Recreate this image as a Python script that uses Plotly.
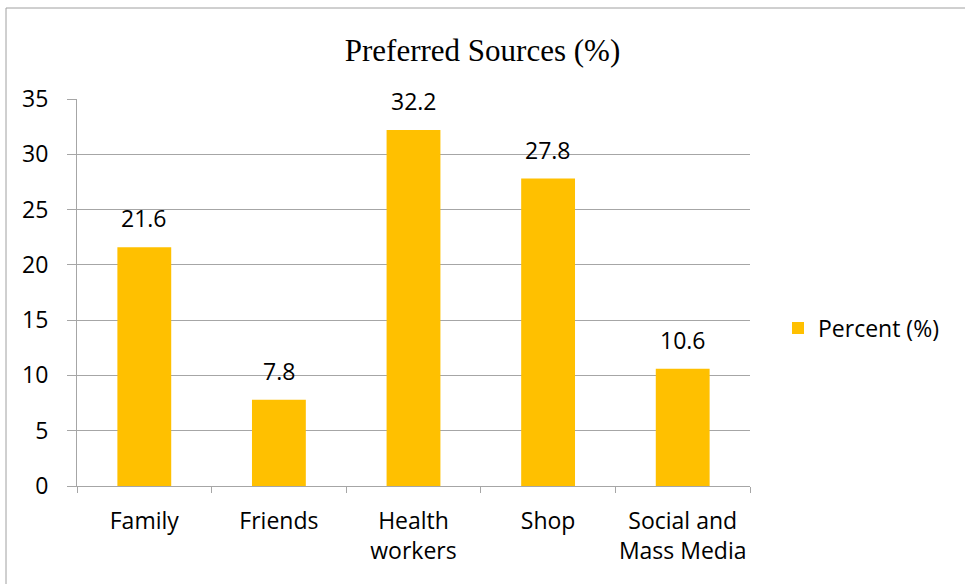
import plotly.graph_objects as go

categories = ["Family", "Friends", "Health<br>workers", "Shop", "Social and<br>Mass Media"]
percent = [21.6, 7.8, 32.2, 27.8, 10.6]
y_ticks = [0, 5, 10, 15, 20, 25, 30, 35]

W, H = 965, 584
L, R, T, B = 77, 215, 99, 98
pw, ph = W - L - R, H - T - B

font = "Open Sans"
fsize = 23
bar_color = "#FFC000"
grid_color = "#A6A6A6"

fig = go.Figure()
fig.add_trace(go.Bar(
    x=categories, y=percent, name="Percent (%)",
    marker=dict(color=bar_color, line=dict(width=0)),
))

# value labels above each bar
for c, v in zip(categories, percent):
    fig.add_annotation(x=c, y=v, text=f"{v}", showarrow=False,
                       yanchor="bottom", yshift=11,
                       font=dict(family=font, size=fsize, color="#000"))

# outer chart border
fig.add_shape(type="rect", xref="paper", yref="paper",
              x0=(6 - L) / pw, x1=(W + 10 - L) / pw,
              y0=-(B + 20) / ph, y1=(T + ph - 8) / ph,
              line=dict(color="#A0A0A0", width=1), fillcolor="rgba(0,0,0,0)",
              layer="below")

fig.update_layout(
    width=W, height=H,
    margin=dict(l=L, r=R, t=T, b=B, autoexpand=False),
    paper_bgcolor="white", plot_bgcolor="white",
    bargap=0.6,
    title=dict(text="Preferred Sources (%)", x=0.5, xref="container",
               y=1 - 50 / H, yref="container", xanchor="center", yanchor="middle",
               font=dict(family="Liberation Serif", size=31, color="#000")),
    showlegend=True,
    legend=dict(x=(778 - L) / pw, y=(T + ph - 328) / ph, xanchor="left", yanchor="middle",
                font=dict(family=font, size=fsize, color="#000"),
                itemwidth=30, bgcolor="rgba(0,0,0,0)"),
    xaxis=dict(showline=True, linecolor=grid_color, linewidth=1,
               ticks="outside", tickson="boundaries", ticklen=6, tickcolor=grid_color,
               tickangle=0,
               tickfont=dict(family=font, size=fsize, color="#000"),
               ticklabelstandoff=14, showgrid=False),
    yaxis=dict(range=[0, 35], tickvals=y_ticks, showline=True, linecolor=grid_color,
               linewidth=1, ticks="outside", ticklen=9, tickcolor=grid_color,
               showgrid=True, gridcolor=grid_color, gridwidth=1, zeroline=False,
               tickfont=dict(family=font, size=fsize, color="#000"),
               ticklabelstandoff=14),
)

fig.write_html("out.html")
